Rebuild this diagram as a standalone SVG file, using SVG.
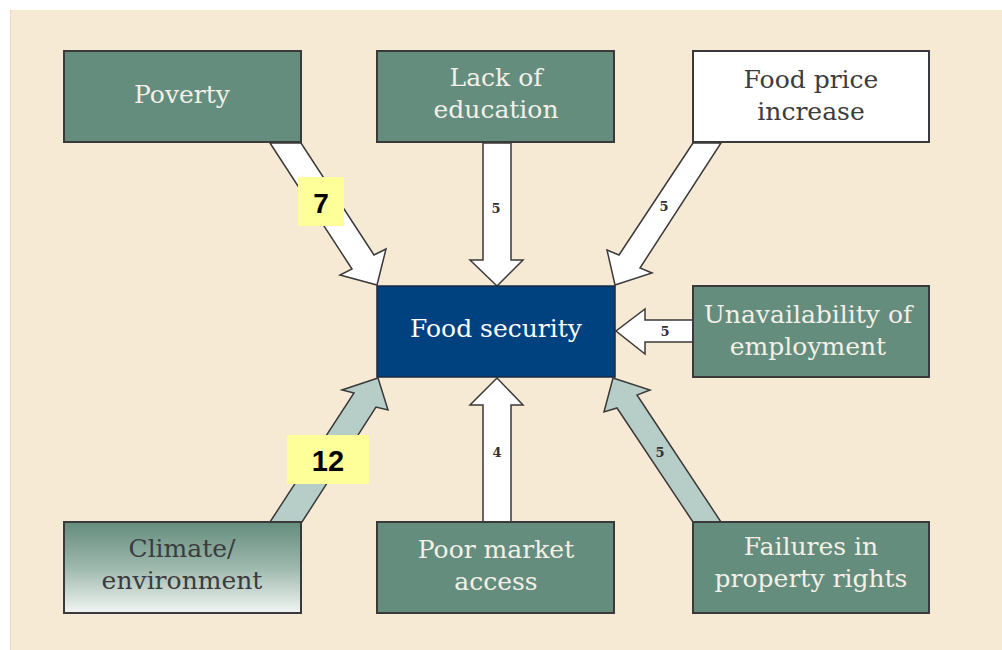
<svg xmlns="http://www.w3.org/2000/svg" width="1002" height="650" viewBox="0 0 1002 650">
<defs>
<linearGradient id="climGrad" x1="0" y1="0" x2="0" y2="1">
<stop offset="0" stop-color="#648D7D"/>
<stop offset="0.5" stop-color="#9DB8AD"/>
<stop offset="1" stop-color="#F2F5F3"/>
</linearGradient>
<style>
.box{fill:#648D7D;stroke:#3A3A3A;stroke-width:2}
.lbl{font-family:"DejaVu Serif","Liberation Serif",serif;font-size:25px;fill:#F2F0E8;text-anchor:middle}
.dark{fill:#3C3C3C}
.arr{fill:#FFFFFF;stroke:#3A3A3A;stroke-width:1.5;stroke-linejoin:miter}
.arr2{fill:#B7CEC8;stroke:#3A3A3A;stroke-width:1.5}
.num{font-family:"DejaVu Serif","Liberation Serif",serif;font-size:13px;font-weight:bold;fill:#333;text-anchor:middle}
.tag{fill:#FFFF99}
.tagt{font-family:"Liberation Sans",Arial,sans-serif;font-weight:bold;fill:#000;text-anchor:middle}
</style>
</defs>
<rect x="0" y="0" width="1002" height="650" fill="#FFFFFF"/>
<rect x="10" y="10" width="992" height="640" fill="#F7EAD5"/>
<line x1="10.5" y1="10" x2="10.5" y2="650" stroke="#E8D8BC" stroke-width="1"/>

<g id="connectors">
<polygon class="arr" points="270,143 352,269 340,275 377,285 386,249 374,255 301,143"/>
<polygon class="arr" points="483,143 483,260 470,260 497,286 523,260 511,260 511,143"/>
<polygon class="arr" points="693,143 619,255 607,250 615,285 652,273 640,268 721,143"/>
<polygon class="arr" points="693,320 645,320 645,309 616,331 645,354 645,342 693,342"/>
<polygon class="arr" points="483,522 483,405 470,405 497,378 523,405 511,405 511,522"/>
<polygon class="arr2" points="270,522 354,393 342,390 378,378 388,410 376,407 302,522"/>
<polygon class="arr2" points="693,522 617,408 604,412 613,378 650,390 637,395 721,522"/>
<text class="num" x="496" y="213">5</text>
<text class="num" x="664" y="211">5</text>
<text class="num" x="665" y="336">5</text>
<text class="num" x="497" y="457">4</text>
<text class="num" x="660" y="457">5</text>
<rect class="tag" x="298" y="177" width="46" height="49"/>
<text class="tagt" x="321" y="213" font-size="28">7</text>
<rect class="tag" x="287" y="435" width="82" height="49"/>
<text class="tagt" x="328" y="471" font-size="29">12</text>
</g>

<g id="poverty">
<rect class="box" x="64" y="51" width="237" height="91"/>
<text class="lbl" x="182" y="103">Poverty</text>
</g>
<g id="lack-of-education">
<rect class="box" x="377" y="51" width="237" height="91"/>
<text class="lbl" x="496" y="86">Lack of</text>
<text class="lbl" x="496" y="118">education</text>
</g>
<g id="food-price-increase">
<rect class="box" x="693" y="51" width="236" height="91" style="fill:#FFFFFF"/>
<text class="lbl dark" x="811" y="88">Food price</text>
<text class="lbl dark" x="811" y="120">increase</text>
</g>
<g id="food-security">
<rect x="377" y="286" width="238" height="91" fill="#00427F" stroke="#1A2A40" stroke-width="1.5"/>
<text class="lbl" x="496" y="337" style="fill:#FFFFFF">Food security</text>
</g>
<g id="unavailability-of-employment">
<rect class="box" x="693" y="286" width="236" height="91"/>
<text class="lbl" x="808" y="323">Unavailability of</text>
<text class="lbl" x="808" y="355">employment</text>
</g>
<g id="climate-environment">
<rect class="box" x="64" y="522" width="237" height="91" style="fill:url(#climGrad)"/>
<text class="lbl dark" x="182" y="557">Climate/</text>
<text class="lbl dark" x="182" y="589">environment</text>
</g>
<g id="poor-market-access">
<rect class="box" x="377" y="522" width="237" height="91"/>
<text class="lbl" x="496" y="558">Poor market</text>
<text class="lbl" x="496" y="590">access</text>
</g>
<g id="failures-in-property-rights">
<rect class="box" x="693" y="522" width="236" height="91"/>
<text class="lbl" x="811" y="555">Failures in</text>
<text class="lbl" x="811" y="587">property rights</text>
</g>
</svg>
